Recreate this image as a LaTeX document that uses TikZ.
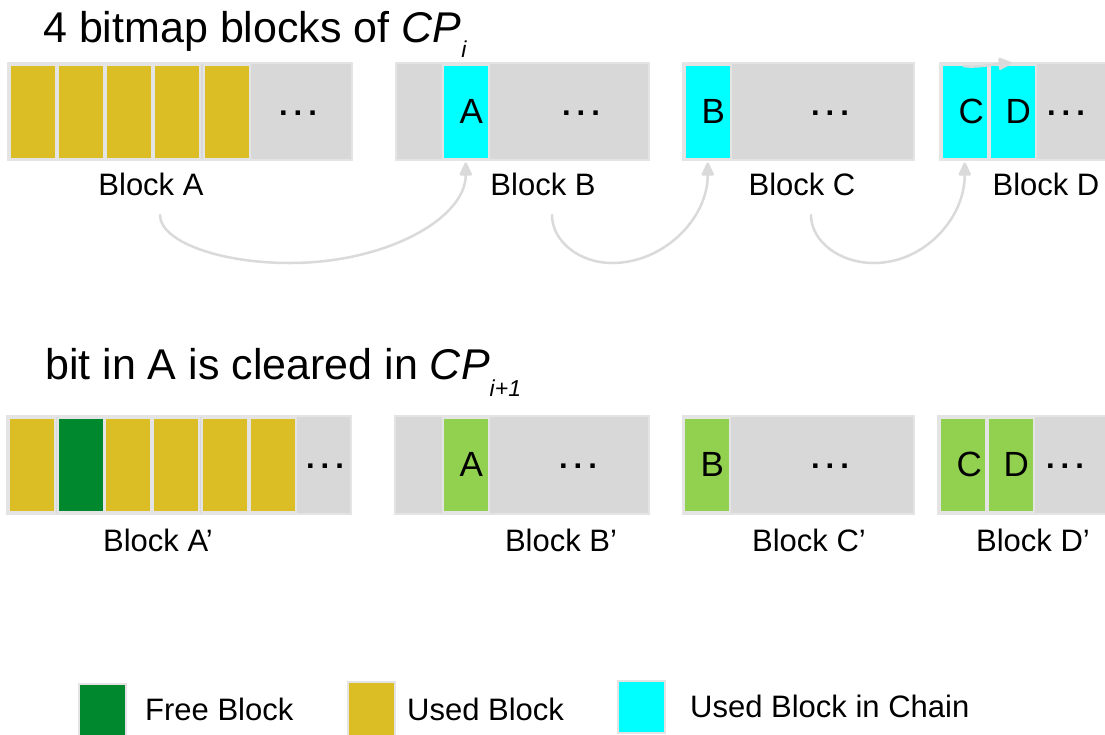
\documentclass[tikz,border=0pt]{standalone}
\usepackage{fontspec}
\setmainfont{Liberation Sans}
\usetikzlibrary{arrows.meta}

\definecolor{slot}{HTML}{D8D8D8}
\definecolor{slotedge}{HTML}{E4E4E4}
\definecolor{used}{HTML}{DBBD25}
\definecolor{free}{HTML}{00882E}
\definecolor{chain}{HTML}{00FFFF}
\definecolor{kept}{HTML}{92D050}
\definecolor{linkgray}{HTML}{DADADA}

\newcommand\pxfont[1]{\fontsize{#1}{#1}\selectfont}

\tikzset{
  bitmap/.style={draw=slotedge, line width=1.5pt, fill=slot, inner sep=0pt,
    anchor=north west, minimum height=97pt},
  cell/.style={draw=slotedge, line width=1.5pt, inner sep=0pt, anchor=north west,
    minimum width=46pt, minimum height=94pt, font=\pxfont{35}},
  ellip/.style={inner sep=0pt, font=\pxfont{31}\bfseries},
  caption/.style={anchor=base, inner sep=0pt, font=\pxfont{31}},
  heading/.style={anchor=base west, inner sep=0pt, font=\pxfont{43}},
  legendbox/.style={draw=slotedge, line width=1.5pt, inner sep=0pt, anchor=north west,
    minimum width=47pt},
  legendtext/.style={anchor=base west, inner sep=0pt, font=\pxfont{31}},
  link/.style={draw=linkgray, line width=2.5pt, line cap=round,
    -{Triangle[width=13pt,length=15pt,round=false]}},
}

\begin{document}
\begin{tikzpicture}[x=1pt, y=-1pt]
\clip (0,0) rectangle (1105,734);
\fill[white] (0,0) rectangle (1105,734);

% ---------- checkpoint i ----------
\node[heading] (h1) at (43,42)
  {4 bitmap blocks of \textit{CP}\raisebox{-15pt}{\pxfont{23}\textit{i}}};

\node[bitmap, minimum width=344pt] (bA) at (7,62) {};
\node[bitmap, minimum width=253pt] (bB) at (395,62) {};
\node[bitmap, minimum width=231pt] (bC) at (682,62) {};
\node[bitmap, minimum width=190pt] (bD) at (939,62) {};

\foreach \x [count=\k] in {9,57,105,153,203}
  \node[cell, fill=used] (a\k) at (\x,64) {};
\node[cell, fill=chain] (cA) at (442,64) {\kern11pt A};
\node[cell, fill=chain] (cB) at (684,64) {\kern11pt B};
\node[cell, fill=chain] (cC) at (941,64) {\kern13pt C};
\node[cell, fill=chain] (cD) at (989,64) {\kern11pt D};

\node[ellip] (dA) at (298,113) {.\kern6pt.\kern6pt.};
\node[ellip] (dB) at (581,113) {.\kern6pt.\kern6pt.};
\node[ellip] (dC) at (830,113) {.\kern6pt.\kern6pt.};
\node[ellip] (dD) at (1066,113) {.\kern6pt.\kern6pt.};

\node[caption] (lA) at (151,195) {Block A};
\node[caption] (lB) at (543,195) {Block B};
\node[caption] (lC) at (802,195) {Block C};
\node[caption] (lD) at (1046,195) {Block D};

% chain links between the blocks
\coordinate (s1) at (160,215);
\coordinate (m1) at (290,263);
\coordinate (e1) at ([yshift=-3pt]cA.south);
\coordinate (s2) at (552,215);
\coordinate (m2) at (612,263);
\coordinate (e2) at ([yshift=-3pt]cB.south);
\coordinate (s3) at (811,215);
\coordinate (m3) at (874,263);
\coordinate (e3) at ([yshift=-3pt]cC.south);
\coordinate (u1) at ([xshift=-1pt,yshift=-2pt]cC.north);
\coordinate (u2) at ([xshift=-1pt,yshift=1pt]cD.north);

\draw[link] (s1) .. controls +(0,26) and +(-72,0) .. (m1)
                 .. controls +(96,0) and +(0,56) .. (e1);
\draw[link] (s2) .. controls +(0,26) and +(-33,0) .. (m2)
                 .. controls +(52,0) and +(0,56) .. (e2);
\draw[link] (s3) .. controls +(0,26) and +(-35,0) .. (m3)
                 .. controls +(50,0) and +(0,56) .. (e3);
\draw[link] (u1) .. controls +(10,2) and +(-15,1) .. (u2);

% ---------- checkpoint i+1 ----------
\node[heading] (h2) at (45,379)
  {bit in A is cleared in \textit{CP}\raisebox{-17pt}{\pxfont{23}\textit{i+1}}};

\node[bitmap, minimum width=344pt, minimum height=98pt] (bA2) at (6,415) {};
\node[bitmap, minimum width=254pt, minimum height=98pt] (bB2) at (394,415) {};
\node[bitmap, minimum width=231pt, minimum height=98pt] (bC2) at (682,415) {};
\node[bitmap, minimum width=190pt, minimum height=98pt] (bD2) at (937,415) {};

\foreach \x/\c [count=\k] in {8/used,57/free,104/used,152/used,201/used,249/used}
  \node[cell, fill=\c] (p\k) at (\x,417) {};
\node[cell, fill=kept] (gA) at (442,417) {\kern11pt A};
\node[cell, fill=kept] (gB) at (683,417) {\kern11pt B};
\node[cell, fill=kept] (gC) at (939,417) {\kern13pt C};
\node[cell, fill=kept] (gD) at (987,417) {\kern11pt D};

\node[ellip] (dA2) at (325,466) {.\kern6pt.\kern6pt.};
\node[ellip] (dB2) at (578,466) {.\kern6pt.\kern6pt.};
\node[ellip] (dC2) at (830,466) {.\kern6pt.\kern6pt.};
\node[ellip] (dD2) at (1065,466) {.\kern6pt.\kern6pt.};

\node[caption] (lA2) at (158,551) {Block A’};
\node[caption] (lB2) at (561,551) {Block B’};
\node[caption] (lC2) at (809,551) {Block C’};
\node[caption] (lD2) at (1033,551) {Block D’};

% ---------- legend ----------
\node[legendbox, fill=free, minimum height=60pt] (kF) at (78,683) {};
\node[legendtext] (tF) at (145,720) {Free Block};
\node[legendbox, fill=used, minimum height=60pt] (kU) at (347,681) {};
\node[legendtext] (tU) at (407,720) {Used Block};
\node[legendbox, fill=chain, minimum height=52pt] (kC) at (617,680) {};
\node[legendtext] (tC) at (690,717) {Used Block in Chain};
\end{tikzpicture}
\end{document}
